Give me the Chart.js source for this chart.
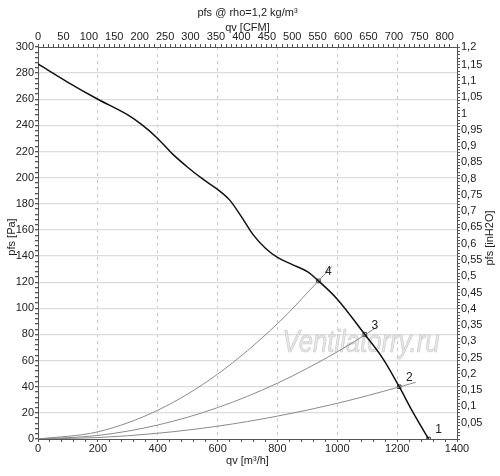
<!DOCTYPE html>
<html>
<head>
<meta charset="utf-8">
<script src="https://cdn.jsdelivr.net/npm/chart.js@4.4.1/dist/chart.umd.min.js"></script>
<style>
html,body{margin:0;padding:0;background:#fff;}
#wrap{width:500px;height:476px;position:relative;}
</style>
</head>
<body>
<div id="wrap"><canvas id="c"></canvas></div>
<script>
// ---- data ----
const fanQ = [0, 100, 200, 300, 350, 400, 450, 500, 550, 600, 640, 680, 720, 760, 800, 850, 900, 937, 1000, 1092, 1154, 1207, 1254, 1305];
const fanP = [287, 273, 260, 248, 240, 230, 218, 208, 199, 191, 183, 170, 156, 146, 139, 133.5, 128, 121, 107, 80, 61, 40, 20, 0];

const sys4Q = [0, 200, 400, 600, 800, 937, 982];
const sys4P = [0, 5.5, 22, 49.6, 88.2, 121, 132];
const sys3Q = [0, 200, 400, 600, 800, 1000, 1092, 1135];
const sys3P = [0, 2.7, 10.7, 24, 42.7, 66.7, 79.6, 86];
const sys2Q = [0, 200, 400, 600, 800, 1000, 1207, 1262];
const sys2P = [0, 1.1, 4.4, 9.8, 17.5, 27.3, 39.8, 43.4];

const opLabels = ['1', '2', '3', '4'];
const opQ = [1305, 1207, 1092, 937];
const opP = [0, 40, 80, 121];

const chartTitle = 'pfs @ rho=1,2 kg/m³';
const xTitle = 'qv [m³/h]';
const x2Title = 'qv [CFM]';
const yTitle = 'pfs [Pa]';
const y2Title = 'pfs [inH2O]';
const watermark = 'Ventilatorry.ru';

const qMax = 1400, pMax = 300;
const m3hPerCFM = 1.699, paPerInH2O = 249.089;

function pts(xs, ys){ return xs.map((x,i)=>({x:x, y:ys[i]})); }

const FONT = '"Liberation Sans", Arial, sans-serif';
const tickFont = {family: FONT, size: 11};
const axisColor = '#555';

function fmtComma(v){ return String(Math.round(v*100)/100).replace('.', ','); }

const textPlugin = {
  id: 'texts',
  beforeDatasetsDraw(chart){
    const ctx = chart.ctx;
    ctx.save();
    ctx.font = 'italic 31px ' + FONT;
    const w = ctx.measureText(watermark).width;
    const targetW = 157;
    ctx.translate(361, 352);
    ctx.scale(targetW / w, 1);
    ctx.textAlign = 'center';
    ctx.textBaseline = 'alphabetic';
    ctx.fillStyle = 'rgba(228,228,228,0.9)';
    ctx.fillText(watermark, 0, 0);
    ctx.lineWidth = 0.7;
    ctx.strokeStyle = 'rgba(185,185,185,0.7)';
    ctx.strokeText(watermark, 0, 0);
    ctx.restore();
  },
  afterDraw(chart){
    const ctx = chart.ctx;
    const a = chart.chartArea;
    const cx = (a.left + a.right) / 2;
    ctx.save();
    ctx.fillStyle = '#222';
    ctx.font = '11px ' + FONT;
    ctx.textAlign = 'center';
    ctx.textBaseline = 'middle';
    ctx.fillText(chartTitle, cx, 13);
    ctx.fillText(x2Title, cx, 28);
    ctx.fillText(xTitle, cx, 461);
    ctx.save();
    ctx.translate(12, (a.top + a.bottom) / 2 - 6);
    ctx.rotate(-Math.PI/2);
    ctx.fillText(yTitle, 0, 0);
    ctx.restore();
    ctx.save();
    ctx.translate(490, (a.top + a.bottom) / 2 - 5);
    ctx.rotate(-Math.PI/2);
    ctx.fillText(y2Title, 0, 0);
    ctx.restore();
    // operating point labels
    const meta = chart.getDatasetMeta(4);
    ctx.font = '12px ' + FONT;
    meta.data.forEach((el, i) => {
      ctx.fillText(opLabels[i], el.x + 10, el.y - 9);
    });
    ctx.restore();
  }
};

new Chart(document.getElementById('c'), {
  type: 'line',
  data: {
    datasets: [
      {data: pts(fanQ, fanP), borderColor: '#111', borderWidth: 1.5, pointRadius: 0, cubicInterpolationMode: 'monotone', xAxisID: 'x', yAxisID: 'y'},
      {data: pts(sys4Q, sys4P), borderColor: '#8a8a8a', borderWidth: 1, pointRadius: 0, cubicInterpolationMode: 'monotone', xAxisID: 'x', yAxisID: 'y'},
      {data: pts(sys3Q, sys3P), borderColor: '#8a8a8a', borderWidth: 1, pointRadius: 0, cubicInterpolationMode: 'monotone', xAxisID: 'x', yAxisID: 'y'},
      {data: pts(sys2Q, sys2P), borderColor: '#8a8a8a', borderWidth: 1, pointRadius: 0, cubicInterpolationMode: 'monotone', xAxisID: 'x', yAxisID: 'y'},
      {data: pts(opQ, opP), showLine: false, pointStyle: 'rect', pointRadius: 2.5, pointBorderWidth: 1, pointBorderColor: '#333', pointBackgroundColor: '#fff', xAxisID: 'x', yAxisID: 'y'}
    ]
  },
  options: {
    responsive: true,
    maintainAspectRatio: false,
    animation: false,
    devicePixelRatio: 1,
    layout: {padding: 0},
    plugins: {legend: {display: false}, tooltip: {enabled: false}, title: {display: false}},
    scales: {
      x: {
        type: 'linear', position: 'bottom', min: 0, max: qMax,
        afterFit: s => { s.height = 37; },
        ticks: {stepSize: 40, autoSkip: false, maxRotation: 0, padding: 0, color: '#222', font: tickFont,
          callback: v => (Math.round(v) % 200 === 0 ? String(Math.round(v)) : '')},
        grid: {color: c => (c.tick && Math.round(c.tick.value) % 200 === 0 && c.tick.value > 0 && c.tick.value < qMax ? '#c8c8c8' : 'transparent'),
               lineWidth: 1, tickColor: axisColor, tickLength: 3},
        border: {display: true, color: axisColor, width: 1, dash: [3, 4]}
      },
      x2: {
        type: 'linear', position: 'top', min: 0, max: qMax / m3hPerCFM,
        afterFit: s => { s.height = 47; },
        ticks: {stepSize: 10, autoSkip: false, maxRotation: 0, padding: 0, color: '#222', font: tickFont,
          callback: v => (Math.round(v) % 50 === 0 ? String(Math.round(v)) : '')},
        grid: {drawOnChartArea: false, tickColor: axisColor, tickLength: 3},
        border: {display: true, color: axisColor, width: 1}
      },
      y: {
        type: 'linear', position: 'left', min: 0, max: pMax,
        afterFit: s => { s.width = 38; },
        ticks: {stepSize: 4, autoSkip: false, padding: 1, color: '#222', font: tickFont,
          callback: v => (Math.round(v) % 20 === 0 ? String(Math.round(v)) : '')},
        grid: {color: c => (c.tick && Math.round(c.tick.value) % 20 === 0 && c.tick.value > 0 && c.tick.value < pMax ? '#dcdcdc' : 'transparent'),
               lineWidth: 1.3, tickColor: axisColor, tickLength: 3},
        border: {display: true, color: axisColor, width: 1}
      },
      y2: {
        type: 'linear', position: 'right', min: 0, max: pMax / paPerInH2O,
        afterFit: s => { s.width = 43; },
        ticks: {stepSize: 0.01, autoSkip: false, padding: 1, color: '#222', font: tickFont,
          callback: v => { const r = Math.round(v*100); return (r % 5 === 0 && r > 0) ? fmtComma(v) : ''; }},
        grid: {drawOnChartArea: false, tickColor: axisColor, tickLength: 3},
        border: {display: true, color: axisColor, width: 1}
      }
    }
  },
  plugins: [textPlugin]
});
</script>
</body>
</html>
